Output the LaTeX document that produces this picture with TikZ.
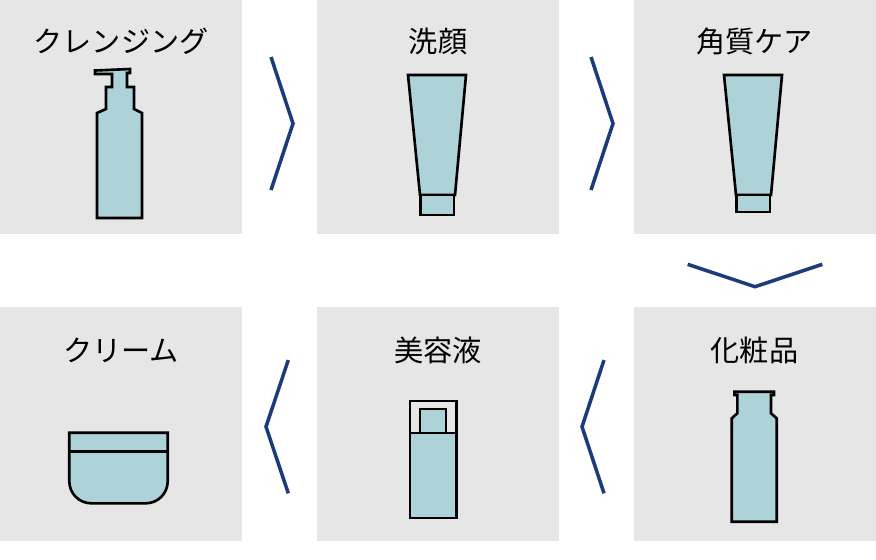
\documentclass[tikz,border=0pt]{standalone}
\usepackage{fontspec}
\setmainfont{Noto Sans CJK JP}
\usepackage{xcolor}
\usepackage{tikz}
\definecolor{boxgray}{HTML}{E6E6E6}
\definecolor{icon blue}{HTML}{ADD2D7}
\definecolor{navy}{HTML}{1A3C7C}
\tikzstyle{step box}=[fill=boxgray, draw=none, shape=rectangle, inner sep=0pt, minimum width=2.42cm, minimum height=2.34cm]
\tikzstyle{title}=[inner sep=0pt, font=\fontsize{8.3}{10}\selectfont]
\tikzstyle{icon}=[fill=icon blue, draw=black, line width=0.75pt, line join=miter]
\tikzstyle{chevron}=[draw=navy, line width=1pt]
\pgfdeclarelayer{nodelayer}
\pgfdeclarelayer{edgelayer}
\pgfsetlayers{main,nodelayer,edgelayer}
\begin{document}
\begin{tikzpicture}
    	\useasboundingbox (0, 0) rectangle (8.76, -5.59);
    	\begin{pgfonlayer}{nodelayer}
    		\node [style=step box] (0) at (1.21, -1.17) {};
    		\node [style=step box] (1) at (4.38, -1.17) {};
    		\node [style=step box] (2) at (7.545, -1.17) {};
    		\node [style=step box] (3) at (7.545, -4.235) {};
    		\node [style=step box] (4) at (4.38, -4.235) {};
    		\node [style=step box] (5) at (1.21, -4.235) {};
    		\node [style=title] (6) at (1.21, -0.41) {クレンジング};
    		\node [style=title] (7) at (4.38, -0.41) {洗顔};
    		\node [style=title] (8) at (7.545, -0.41) {角質ケア};
    		\node [style=title] (9) at (7.545, -3.50) {化粧品};
    		\node [style=title] (10) at (4.38, -3.50) {美容液};
    		\node [style=title] (11) at (1.21, -3.50) {クリーム};
    	\end{pgfonlayer}
    	\begin{pgfonlayer}{edgelayer}
    		% pump bottle
    		\filldraw [style=icon] (0.95, -0.705) -- (1.30, -0.69) -- (1.30, -0.73) -- (1.27, -0.73) -- (1.27, -0.87) -- (1.34, -0.87) -- (1.34, -1.09) -- (1.42, -1.13) -- (1.42, -2.18) -- (0.97, -2.18) -- (0.97, -1.13) -- (1.06, -1.09) -- (1.06, -0.87) -- (1.12, -0.87) -- (1.12, -0.74) -- (0.95, -0.74) -- cycle;
    		% tubes
    		\filldraw [style=icon] (4.08, -0.75) -- (4.66, -0.75) -- (4.55, -1.95) -- (4.20, -1.95) -- cycle;
    		\filldraw [style=icon] (4.205, -1.95) rectangle (4.54, -2.15);
    		\filldraw [style=icon] (7.24, -0.75) -- (7.82, -0.75) -- (7.71, -1.95) -- (7.36, -1.95) -- cycle;
    		\filldraw [style=icon] (7.365, -1.95) rectangle (7.70, -2.12);
    		% bottle
    		\filldraw [style=icon] (7.343, -3.917) -- (7.74, -3.917) -- (7.74, -3.95) -- (7.71, -3.95) -- (7.71, -4.133) -- (7.767, -4.183) -- (7.767, -5.217) -- (7.317, -5.217) -- (7.317, -4.183) -- (7.373, -4.133) -- (7.373, -3.95) -- (7.343, -3.95) -- cycle;
    		% serum
    		\filldraw [style=icon, fill=boxgray] (4.10, -4.01) rectangle (4.565, -4.33);
    		\filldraw [style=icon] (4.20, -4.09) rectangle (4.46, -4.33);
    		\filldraw [style=icon] (4.10, -4.33) rectangle (4.565, -5.18);
    		% jar
    		\filldraw [style=icon] (0.693, -4.327) -- (1.677, -4.327) [rounded corners=0.22cm] -- (1.677, -5.033) -- (0.693, -5.033) [sharp corners] -- cycle;
    		\draw [style=icon] (0.693, -4.517) -- (1.677, -4.517);
    		% chevrons
    		\draw [style=chevron] (2.71, -0.57) -- (2.93, -1.235) -- (2.71, -1.90);
    		\draw [style=chevron] (5.91, -0.57) -- (6.13, -1.235) -- (5.91, -1.90);
    		\draw [style=chevron] (6.877, -2.643) -- (7.55, -2.867) -- (8.223, -2.643);
    		\draw [style=chevron] (6.04, -3.60) -- (5.82, -4.267) -- (6.04, -4.933);
    		\draw [style=chevron] (2.883, -3.60) -- (2.66, -4.267) -- (2.883, -4.933);
    	\end{pgfonlayer}
\end{tikzpicture}
\end{document}
